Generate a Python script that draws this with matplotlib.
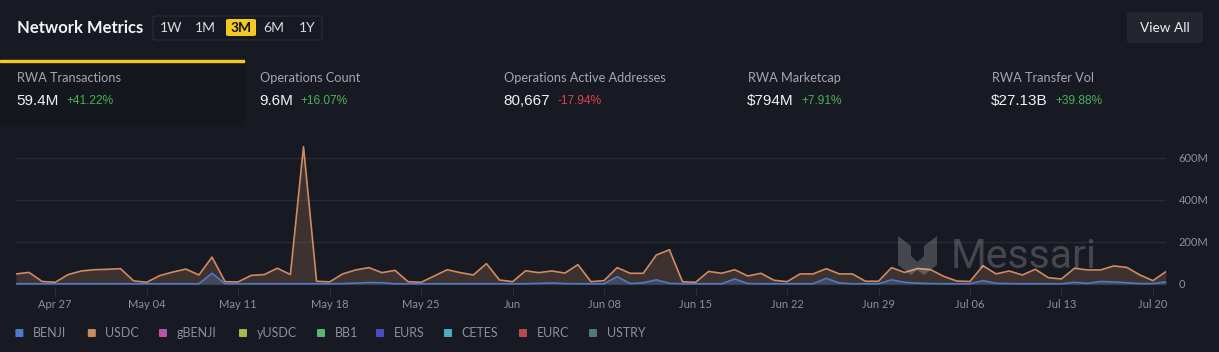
import matplotlib
matplotlib.use('Agg')
import matplotlib.pyplot as plt
import matplotlib.dates as mdates
from matplotlib.patches import FancyBboxPatch, Rectangle, Polygon
import pandas as pd

# ---------------- data ----------------
dates = pd.date_range('2025-04-24', periods=89, freq='D')
usdc = [48, 55, 12, 8, 45, 62, 68, 70, 73, 15, 8, 40, 57, 71, 43, 128, 11, 10, 41, 45,
        75, 45, 654, 13, 10, 48, 67, 78, 54, 65, 11, 8, 38, 68, 54, 43, 97, 19, 11, 63,
        54, 62, 52, 92, 11, 16, 78, 51, 51, 138, 163, 11, 8, 60, 51, 68, 38, 51, 18, 11,
        48, 48, 73, 48, 48, 13, 13, 78, 55, 74, 68, 36, 14, 12, 87, 48, 62, 43, 70, 30,
        24, 75, 67, 67, 86, 79, 43, 16, 59]
benji = [1, 1, 1, 1, 1, 1, 1, 1, 1, 1, 1, 1, 1, 1, 1, 51, 1, 1, 1, 1,
         1, 1, 1, 1, 1, 2, 4, 7, 6, 1, 1, 1, 1, 1, 1, 1, 1, 1, 1, 1,
         3, 5, 2, 1, 1, 1, 35, 2, 6, 20, 3, 1, 1, 1, 1, 24, 2, 1, 1, 1,
         1, 1, 27, 5, 1, 1, 1, 20, 8, 4, 2, 1, 1, 1, 16, 3, 2, 1, 1, 1,
         1, 8, 3, 12, 10, 6, 2, 2, 10]
series_names = ['BENJI', 'USDC', 'gBENJI', 'yUSDC', 'BB1', 'EURS', 'CETES', 'EURC', 'USTRY']
series_colors = ['#4f7bc8', '#c98a62', '#b455b2', '#a9b84c', '#5cb56c', '#4b4cc0',
                 '#4faac6', '#b84c4c', '#4f7a79']
tick_dates = pd.date_range('2025-04-27', '2025-07-20', freq='7D')
tick_labels = ['Apr 27', 'May 04', 'May 11', 'May 18', 'May 25', 'Jun', 'Jun 08',
               'Jun 15', 'Jun 22', 'Jun 29', 'Jul 06', 'Jul 13', 'Jul 20']
y_ticks = [0, 200, 400, 600]
y_tick_labels = ['0', '200M', '400M', '600M']
metric_titles = ['RWA Transactions', 'Operations Count', 'Operations Active Addresses',
                 'RWA Marketcap', 'RWA Transfer Vol']
metric_values = ['59.4M', '9.6M', '80,667', '$794M', '$27.13B']
metric_changes = ['+41.22%', '+16.07%', '-17.94%', '+7.91%', '+39.88%']
timeframes = ['1W', '1M', '3M', '6M', '1Y']
selected_tf = '3M'

# ---------------- style / layout ----------------
W, H = 1219, 352
BG = '#171a22'
GRID = '#262a33'
MUTED = '#8b909b'
GREEN = '#49b455'
RED = '#d8434f'
YELLOW = '#f4c825'
UI = ['Lato', 'DejaVu Sans']
NUM = ['Liberation Sans', 'DejaVu Sans']

fig = plt.figure(figsize=(W / 100, H / 100), dpi=100, facecolor=BG)


def fx(x):
    return x / W


def fy(y):
    return 1 - y / H


# selected tab background + yellow indicator
fig.patches.append(Rectangle((0, fy(125)), fx(244), (125 - 61) / H,
                             transform=fig.transFigure, color='#14171e', zorder=0))
fig.patches.append(Rectangle((0, fy(62)), fx(244), 2 / H,
                             transform=fig.transFigure, color=YELLOW, zorder=1))

# title
fig.text(fx(17), fy(28), 'Network Metrics', color='#f2f3f5', fontsize=12,
         fontweight='bold', family=UI, va='center', ha='left')

# timeframe group
fig.patches.append(FancyBboxPatch((fx(153), fy(40)), fx(169), 24 / H,
                                  boxstyle='round,pad=0,rounding_size=0.004',
                                  transform=fig.transFigure, facecolor='none',
                                  edgecolor='#2a2e38', lw=0.8))
tf_x = [171, 205, 241, 274, 307]
for lbl, xc in zip(timeframes, tf_x):
    if lbl == selected_tf:
        fig.patches.append(FancyBboxPatch((fx(226), fy(36)), fx(30), 17 / H,
                                          boxstyle='round,pad=0,rounding_size=0.003',
                                          transform=fig.transFigure, facecolor=YELLOW,
                                          edgecolor='none'))
        fig.text(fx(xc), fy(28), lbl, color='#111111', fontsize=10, fontweight='bold',
                 family=UI, ha='center', va='center')
    else:
        fig.text(fx(xc), fy(28), lbl, color='#d9dbe0', fontsize=10,
                 family=UI, ha='center', va='center')

# View All button
fig.patches.append(FancyBboxPatch((fx(1127), fy(43)), fx(76), 31 / H,
                                  boxstyle='round,pad=0,rounding_size=0.004',
                                  transform=fig.transFigure, facecolor='#23262f',
                                  edgecolor='none'))
fig.text(fx(1165), fy(28), 'View All', color='#eceef2', fontsize=9.8,
         family=UI, ha='center', va='center')

# metric tabs
metric_x = [17, 260, 504, 748, 992]
fig.canvas.draw()
renderer = fig.canvas.get_renderer()
for t, v, c, xm in zip(metric_titles, metric_values, metric_changes, metric_x):
    fig.text(fx(xm), fy(78), t, color='#a3a7b0', fontsize=9.2, family=UI,
             ha='left', va='center')
    vt = fig.text(fx(xm - 1), fy(101), v, color='#f0f1f3', fontsize=11, family=NUM,
                  ha='left', va='center')
    ext = vt.get_window_extent(renderer)
    col = RED if c.startswith('-') else GREEN
    fig.text(fx(ext.x1 + 8), fy(101.5), c, color=col, fontsize=8.6, family=NUM,
             ha='left', va='center')

# ---------------- chart ----------------
px_per_unit = 42 / 200.0  # pixels per million
ax_top, ax_bot = 138, 288
ax = fig.add_axes([fx(16), fy(ax_bot), fx(1166 - 16), (ax_bot - ax_top) / H])
ax.set_facecolor('none')
ylo = -(ax_bot - 284) / px_per_unit
yhi = (284 - ax_top) / px_per_unit
ax.set_ylim(ylo, yhi)
ax.set_xlim(dates[0], dates[-1])

ax.fill_between(dates, 0, usdc, color=series_colors[1], alpha=0.22, lw=0, zorder=2)
ax.plot(dates, usdc, color='#d18a62', lw=1.2, zorder=3)
ax.fill_between(dates, 0, benji, color=series_colors[0], alpha=0.3, lw=0, zorder=4)
ax.plot(dates, benji, color='#4d79c6', lw=1.2, zorder=5)

ax.set_yticks(y_ticks)
ax.set_yticklabels(y_tick_labels)
ax.yaxis.tick_right()
ax.tick_params(axis='y', length=0, pad=9, labelcolor=MUTED, labelsize=8)
ax.set_xticks(tick_dates)
ax.set_xticklabels(tick_labels)
ax.tick_params(axis='x', length=5, color='#2c3039', pad=3, labelcolor=MUTED,
               labelsize=8)
for lab in ax.get_xticklabels() + ax.get_yticklabels():
    lab.set_family(UI)
ax.grid(axis='y', color=GRID, lw=1, zorder=1)
for s in ax.spines.values():
    s.set_visible(False)

# watermark
wm_alpha = 0.2
polys = [
    [(898, 236), (911, 246), (911, 275), (898, 265)],
    [(937, 236), (924, 246), (924, 275), (937, 265)],
    [(911, 256), (917.5, 262), (924, 256), (924, 275), (917.5, 270), (911, 275)],
]
for p in polys:
    fig.patches.append(Polygon([(fx(a), fy(b)) for a, b in p], closed=True,
                               transform=fig.transFigure, facecolor='white',
                               alpha=wm_alpha, edgecolor='none', zorder=10))
fig.text(fx(951), fy(256.5), 'Messari', color='white', alpha=wm_alpha,
         fontsize=29.5, family=['Roboto', 'DejaVu Sans'], ha='left', va='center',
         zorder=10)

# legend
leg_sq_x = [19.4, 91.8, 163, 243, 321, 380, 448, 523, 593]
for name, col, xs in zip(series_names, series_colors, leg_sq_x):
    fig.patches.append(FancyBboxPatch((fx(xs - 4), fy(337)), fx(8), 8 / H,
                                      boxstyle='round,pad=0,rounding_size=0.0015',
                                      transform=fig.transFigure, facecolor=col,
                                      edgecolor='none'))
    fig.text(fx(xs + 13.5), fy(333), name, color=MUTED, fontsize=9, family=UI,
             ha='left', va='center')

fig.savefig('out.png', dpi=100, facecolor=BG)
